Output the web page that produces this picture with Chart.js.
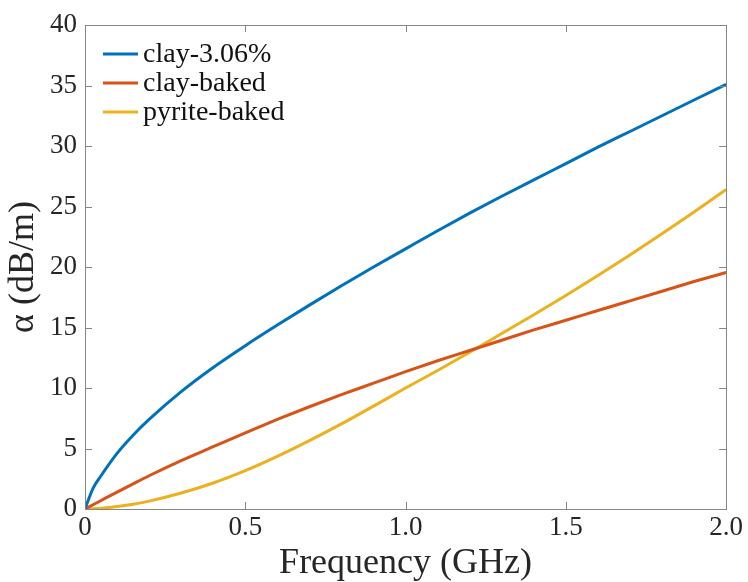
<!DOCTYPE html>
<html lang="en">
<head>
    <meta charset="UTF-8">
    <title>Attenuation vs frequency</title>
    <script src="https://cdn.jsdelivr.net/npm/chart.js"></script>
    <style>
        html, body { margin: 0; padding: 0; background: #fff; }
        #box { width: 748px; height: 582px; }
    </style>
</head>
<body>
    <div id="box">
        <canvas id="grafico"></canvas>
    </div>

    <script>
        // frequency samples (GHz)
        const freq = [0, 0.025, 0.05, 0.1, 0.15, 0.2, 0.3, 0.4, 0.5, 0.6, 0.7, 0.8, 0.9, 1.0,
                      1.1, 1.2, 1.3, 1.4, 1.5, 1.6, 1.7, 1.8, 1.9, 2.0]
        // attenuation (dB/m)
        const clay306   = [0, 1.7, 2.75, 4.6, 6.1, 7.4, 9.7, 11.7, 13.5, 15.2, 16.85, 18.45, 20.0, 21.5,
                           23.0, 24.45, 25.85, 27.2, 28.55, 29.9, 31.2, 32.5, 33.8, 35.1]
        const clayBaked = [0, 0.35, 0.7, 1.4, 2.08, 2.75, 4.0, 5.15, 6.3, 7.4, 8.45, 9.45, 10.4, 11.35,
                           12.25, 13.1, 13.95, 14.8, 15.6, 16.4, 17.2, 18.0, 18.8, 19.55]
        const pyrBaked  = [0, 0.02, 0.06, 0.2, 0.4, 0.65, 1.32, 2.15, 3.17, 4.35, 5.65, 7.03, 8.5, 10.0,
                           11.45, 12.95, 14.5, 16.05, 17.65, 19.3, 21.0, 22.75, 24.55, 26.4]
        const xTicks = [0, 0.5, 1.0, 1.5, 2.0]
        const yTicks = [0, 5, 10, 15, 20, 25, 30, 35, 40]

        const series = [
            { label: 'clay-3.06%',   valores: clay306,   cor: '#0072BD' },
            { label: 'clay-baked',   valores: clayBaked, cor: '#D95319' },
            { label: 'pyrite-baked', valores: pyrBaked,  cor: '#EDB120' }
        ]

        const fonte = '"Liberation Serif", "Times New Roman", serif'
        const cinza = '#858585'
        const texto = '#262626'

        // inward ticks on all four sides + box, legend inside top-left
        const moldura = {
            id: 'moldura',
            afterDraw(chart) {
                const c = chart.ctx, a = chart.chartArea
                const sx = chart.scales.x, sy = chart.scales.y
                const len = 7
                c.save()
                c.strokeStyle = cinza
                c.lineWidth = 1
                c.beginPath()
                xTicks.forEach(v => {
                    const p = Math.round(sx.getPixelForValue(v)) + 0.5
                    c.moveTo(p, a.bottom); c.lineTo(p, a.bottom - len)
                    c.moveTo(p, a.top);    c.lineTo(p, a.top + len)
                })
                yTicks.forEach(v => {
                    const p = Math.round(sy.getPixelForValue(v)) + 0.5
                    c.moveTo(a.left, p);  c.lineTo(a.left + len, p)
                    c.moveTo(a.right, p); c.lineTo(a.right - len, p)
                })
                c.stroke()
                c.strokeRect(Math.round(a.left) + 0.5, Math.round(a.top) + 0.5,
                             Math.round(a.right - a.left), Math.round(a.bottom - a.top))

                // legend
                c.font = '28px ' + fonte
                c.textBaseline = 'middle'
                c.fillStyle = '#111'
                series.forEach((s, i) => {
                    const y = a.top + 29 + i * 29
                    c.strokeStyle = s.cor
                    c.lineWidth = 3
                    c.beginPath()
                    c.moveTo(a.left + 18, y); c.lineTo(a.left + 53, y)
                    c.stroke()
                    c.fillText(s.label, a.left + 58, y + 1)
                })
                c.restore()
            }
        }

        const ctx = document.getElementById('grafico')
        const grafico = new Chart(ctx, {
            type: 'line',
            data: {
                datasets: series.map(s => ({
                    label: s.label,
                    data: freq.map((f, i) => ({ x: f, y: s.valores[i] })),
                    borderColor: s.cor,
                    backgroundColor: s.cor,
                    borderWidth: 3,
                    pointRadius: 0,
                    cubicInterpolationMode: 'monotone',
                    fill: false
                }))
            },
            options: {
                responsive: true,
                maintainAspectRatio: false,
                animation: false,
                layout: { padding: { left: 6, right: 17, top: 25, bottom: 0 } },
                plugins: {
                    legend: { display: false },
                    tooltip: { enabled: false }
                },
                scales: {
                    x: {
                        type: 'linear',
                        min: 0, max: 2,
                        afterBuildTicks: ax => { ax.ticks = xTicks.map(v => ({ value: v })) },
                        grid: { display: false, drawTicks: false },
                        border: { display: true, color: cinza },
                        ticks: {
                            color: texto,
                            font: { family: fonte, size: 27, lineHeight: 1 },
                            padding: 5,
                            maxRotation: 0,
                            callback: v => v === 0 ? '0' : v.toFixed(1)
                        },
                        title: {
                            display: true,
                            text: 'Frequency (GHz)',
                            color: texto,
                            font: { family: fonte, size: 36, lineHeight: 1 },
                            padding: { top: 0, bottom: 0 }
                        }
                    },
                    y: {
                        min: 0, max: 40,
                        afterBuildTicks: ax => { ax.ticks = yTicks.map(v => ({ value: v })) },
                        grid: { display: false, drawTicks: false },
                        border: { display: true, color: cinza },
                        ticks: {
                            color: texto,
                            font: { family: fonte, size: 27, lineHeight: 1 },
                            padding: 8
                        },
                        title: {
                            display: true,
                            text: 'α (dB/m)',
                            color: texto,
                            font: { family: fonte, size: 36, lineHeight: 1 },
                            padding: { top: 0, bottom: 0 }
                        }
                    }
                }
            },
            plugins: [moldura]
        })
    </script>
</body>
</html>
